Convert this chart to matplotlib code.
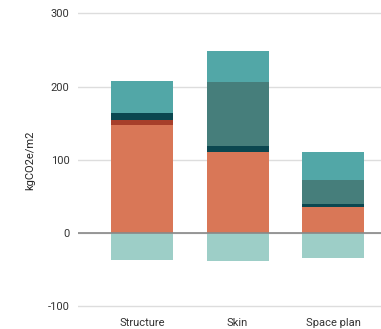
import matplotlib as mpl; mpl.use('Agg')
import matplotlib.pyplot as plt
import numpy as np

plt.rcParams['font.family'] = ['Roboto', 'DejaVu Sans']
plt.rcParams['axes.unicode_minus'] = False

categories = ['Structure', 'Skin', 'Space plan']
# stacked positive layers, bottom to top
layer_orange = [147.5, 110.7, 35.5]
layer_red = [6.5, 0, 0]
layer_dark = [10, 8.3, 4.1]
layer_slate = [0, 87, 32.8]
layer_teal = [43.5, 42.6, 38.6]
# negative (stored carbon)
layer_neg = [-37, -38, -34.6]

colors = ['#D97757', '#A73F2A', '#0B4750', '#467E7B', '#52A7A7']
neg_color = '#9DCEC7'

fig = plt.figure(figsize=(3.81, 3.29), dpi=100)
ax = fig.add_axes([78/381, (329-310)/329, 1-78/381, (310-9.7)/329])

x = np.arange(len(categories))
w = 0.65
bottom = np.zeros(len(categories))
for vals, c in zip([layer_orange, layer_red, layer_dark, layer_slate, layer_teal], colors):
    vals = np.array(vals)
    ax.bar(x, vals, w, bottom=bottom, color=c, zorder=3)
    bottom += vals
ax.bar(x, layer_neg, w, color=neg_color, zorder=3)

ax.set_xlim(-0.67, 2.5)
ax.set_ylim(-105, 305)
ax.set_yticks([-100, 0, 100, 200, 300])
ax.set_xticks(x)
ax.set_xticklabels(categories)
ax.grid(axis='y', color='#dddddd', linewidth=1, zorder=0)
ax.axhline(0, color='#888888', linewidth=1.2, zorder=4)
for s in ax.spines.values():
    s.set_visible(False)
ax.tick_params(axis='both', length=0, labelsize=8, colors='#333333')
ax.tick_params(axis='y', pad=6)
ax.tick_params(axis='x', pad=6)
ax.set_ylabel('kgCO2e/m2', fontsize=8, color='#222222', labelpad=9)

plt.savefig('out.png', dpi=100)
